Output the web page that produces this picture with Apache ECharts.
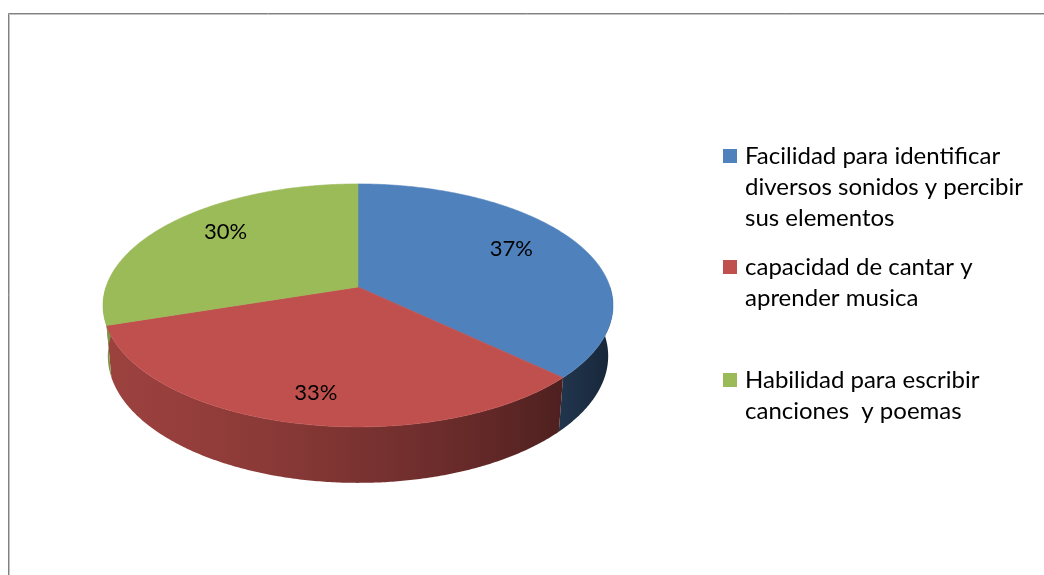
<!DOCTYPE html>
<html>
<head>
<meta charset="utf-8">
<script src="https://cdn.jsdelivr.net/npm/echarts@6/dist/echarts.min.js"></script>
<style>html,body{margin:0;padding:0;background:#fff}#c{width:1044px;height:575px}</style>
</head>
<body>
<div id="c"></div>
<script>
// ---- data ----
const categories = [
  'Facilidad para identificar diversos sonidos y percibir sus elementos',
  'capacidad de cantar y aprender musica',
  'Habilidad para escribir canciones  y poemas'
];
const values = [37, 33, 30];
const legendLines = [
  ['Facilidad para identificar', 'diversos sonidos y percibir', 'sus elementos'],
  ['capacidad de cantar y', 'aprender musica'],
  ['Habilidad para escribir', 'canciones  y poemas']
];
const colors = ['#4F81BD', '#C0504D', '#9BBB59'];

// ---- 3D projection settings (layout) ----
const CX = 358, CY = 287, A = 252;
const SIN_E = 0.471, COS_E = 0.882, K = 0.172, HH = 0.23;
const FONT = 'Lato';
const VIS0 = 101.2 * Math.PI / 180, VIS1 = 258.8 * Math.PI / 180;

function proj(t, r, h) {
  const X = r * Math.sin(t), u = -r * Math.cos(t);
  const d = 1 - K * u * COS_E + K * h * SIN_E;
  return [CX + A * X / d, CY + A * (u * SIN_E + h * COS_E) / d];
}
function shade(hex, t) {
  let f = 0.51 + 0.27 * (-Math.sin(t)) + 0.13 * (-Math.cos(t));
  f = Math.max(0.2, Math.min(1, f));
  const n = parseInt(hex.slice(1), 16);
  const r = Math.round(((n >> 16) & 255) * f), g = Math.round(((n >> 8) & 255) * f), b = Math.round((n & 255) * f);
  return 'rgb(' + r + ',' + g + ',' + b + ')';
}

const total = values.reduce((a, b) => a + b, 0);
const starts = [];
{ let acc = 0; values.forEach(v => { starts.push(acc); acc += v; }); }

function makeRender(i) {
  return function (params, api) {
    const a = starts[i] / total * Math.PI * 2;
    const b = (starts[i] + values[i]) / total * Math.PI * 2;
    const children = [];
    const steps = Math.max(2, Math.ceil((b - a) / (Math.PI / 360)));
    // outer wall (single polygon with horizontal gradient over its visible part)
    const va = Math.max(a, VIS0), vb = Math.min(b, VIS1);
    if (vb > va) {
      const wa = Math.max(a, VIS0 - 0.2), wb = Math.min(b, VIS1 + 0.2);
      const wsteps = Math.max(2, Math.ceil((wb - wa) / (Math.PI / 360)));
      const top = [], bot = [];
      for (let s = 0; s <= wsteps; s++) {
        const t = wa + (wb - wa) * s / wsteps;
        top.push(proj(t, 1, 0));
        bot.push(proj(t, 1, HH));
      }
      const pts = top.concat(bot.reverse());
      const xr = proj(va, 1, 0)[0], xl = proj(vb, 1, 0)[0];
      const stops = [];
      const N = 12;
      for (let s = 0; s <= N; s++) {
        const t = vb - (vb - va) * s / N; // left to right
        const x = proj(t, 1, 0)[0];
        stops.push({ offset: Math.max(0, Math.min(1, (x - xl) / Math.max(1, xr - xl))), color: shade(colors[i], t) });
      }
      children.push({
        type: 'polygon', z2: 10,
        shape: { points: pts },
        style: {
          fill: { type: 'linear', x: xl, y: 0, x2: xr, y2: 0, global: true, colorStops: stops }
        }
      });
    }
    // top face
    const pts = [proj(0, 0, 0)];
    for (let s = 0; s <= steps; s++) pts.push(proj(a + (b - a) * s / steps, 1, 0));
    children.push({
      type: 'polygon', z2: 1000,
      shape: { points: pts },
      style: { fill: colors[i], stroke: colors[i], lineWidth: 0.6 }
    });
    // percent label
    const m = (a + b) / 2;
    const lp = proj(m, 0.69, 0);
    children.push({
      type: 'text', z2: 2000, x: lp[0], y: lp[1] - 17 * Math.cos(m),
      style: {
        text: Math.round(values[i] / total * 100) + '%', fill: '#000',
        fontFamily: FONT, fontSize: 22, align: 'center', verticalAlign: 'middle'
      }
    });
    return { type: 'group', children: children };
  };
}

const iconCenters = [156, 267, 380];
const LH = 31;
const option = {
  animation: false,
  backgroundColor: '#fff',
  graphic: [
    { type: 'rect', shape: { x: 8.5, y: 13.5, width: 1200, height: 800 }, style: { fill: 'none', stroke: '#808080', lineWidth: 1 }, silent: true },
    { type: 'rect', shape: { x: 9.5, y: 14.5, width: 1200, height: 800 }, style: { fill: 'none', stroke: '#c4c4c4', lineWidth: 1 }, silent: true }
  ],
  legend: categories.map((name, i) => {
    const n = legendLines[i].length;
    const H = LH * (2 * n - 1);
    return {
      data: [name], left: 723, top: iconCenters[i] - H / 2, padding: 0,
      orient: 'vertical', icon: 'rect', itemWidth: 14, itemHeight: 14,
      selectedMode: false,
      formatter: () => '\n'.repeat(n - 1) + legendLines[i].join('\n'),
      textStyle: { fontFamily: FONT, fontSize: 24, color: '#000', lineHeight: LH, padding: [0, 0, 0, 3] }
    };
  }),
  series: categories.map((name, i) => ({
    type: 'custom', name: name, coordinateSystem: 'none',
    itemStyle: { color: colors[i] },
    data: [values[i]],
    renderItem: makeRender(i)
  }))
};
const chart = echarts.init(document.getElementById('c'), null, { renderer: 'canvas' });
chart.setOption(option);
</script>
</body>
</html>
